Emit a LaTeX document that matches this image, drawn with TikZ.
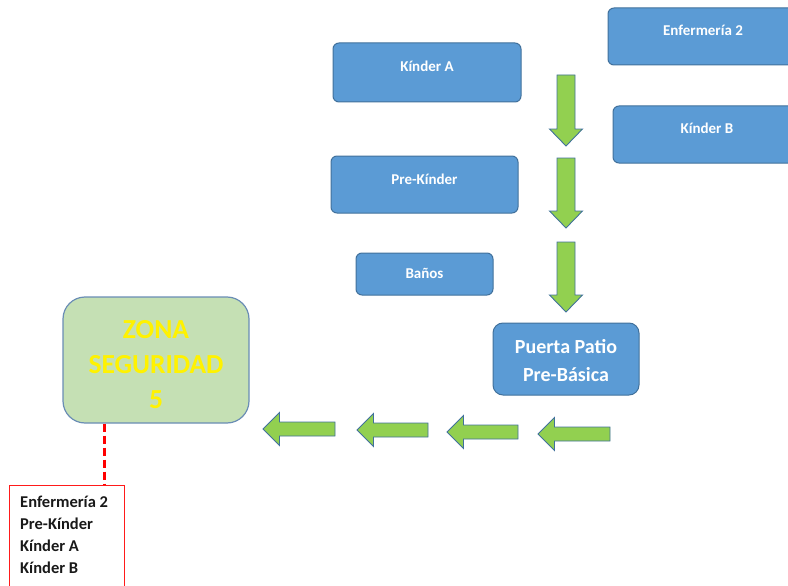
\documentclass[tikz,border=0pt]{standalone}
\usepackage{fontspec}
\setmainfont{Carlito}
\usetikzlibrary{calc}

\definecolor{boxblue}{HTML}{5B9BD5}
\definecolor{boxedge}{HTML}{41719C}
\definecolor{arrowgreen}{HTML}{92D050}
\definecolor{zonegreen}{HTML}{C5E0B4}
\definecolor{zoneedge}{HTML}{6A8DB5}
\definecolor{listred}{HTML}{FF1A1A}

\tikzset{
  room/.style={draw=boxedge, fill=boxblue, line width=1pt, rounded corners=6pt,
    text=white, font=\bfseries\fontsize{15}{18}\selectfont, inner sep=0pt,
    text height=11pt, text depth=12pt},
  gate/.style={draw=boxedge, fill=boxblue, line width=1pt, rounded corners=10pt,
    inner sep=0pt},
  gatetext/.style={text=white, font=\bfseries\fontsize{20}{28}\selectfont,
    align=center, inner sep=0pt},
  zone/.style={draw=zoneedge, fill=zonegreen, line width=1.2pt, rounded corners=22pt,
    inner sep=0pt},
  zonetext/.style={text=yellow, font=\bfseries\fontsize{27.5}{35}\selectfont,
    align=center, inner sep=0pt},
  listbox/.style={draw=listred, fill=white, line width=1pt, inner sep=0pt},
  listtext/.style={font=\bfseries\fontsize{16.5}{22}\selectfont, text=black!90,
    align=left, inner sep=0pt},
  blockarrow/.style={draw=boxedge, fill=arrowgreen, line width=0.9pt, line join=miter},
  dashline/.style={draw=red, line width=2.4pt, dash pattern=on 8pt off 4pt}
}

% block arrow pointing down: centre x, top y, tip y
\newcommand\arrowdown[3]{%
  \draw[blockarrow] (#1-9,#2) -- (#1+9,#2) -- (#1+9,#3-17) -- (#1+16.5,#3-17)
    -- (#1,#3) -- (#1-16.5,#3-17) -- (#1-9,#3-17) -- cycle;}
% block arrow pointing left: tip x, tail x, centre y
\newcommand\arrowleft[3]{%
  \draw[blockarrow] (#1,#3) -- (#1+16.5,#3-16.5) -- (#1+16.5,#3-7) -- (#2,#3-7)
    -- (#2,#3+7) -- (#1+16.5,#3+7) -- (#1+16.5,#3+16.5) -- cycle;}

\begin{document}
\begin{tikzpicture}[x=1pt, y=-1pt]
  \useasboundingbox (0,0) rectangle (788,586);
  \clip (0,0) rectangle (788,586);

  % rooms
  \node[room, minimum width=190pt, minimum height=57pt] (enf2) at (703,36.5) {Enfermería 2};
  \node[room, minimum width=188pt, minimum height=57pt] (kb) at (707,134.5) {Kínder B};
  \node[room, minimum width=188pt, minimum height=59pt] (ka) at (427,72.5) {Kínder A};
  \node[room, minimum width=187pt, minimum height=57pt] (pk) at (424.5,184.5) {Pre-Kínder};
  \node[room, minimum width=137pt, minimum height=42pt, text height=11pt, text depth=2pt]
    (banos) at (424.5,274) {Baños};

  % exit gate
  \node[gate, minimum width=146pt, minimum height=72pt] (gate) at (566,359) {};
  \node[gatetext] (gatetxt) at ($(gate.center)+(0,2)$) {Puerta Patio\\Pre-Básica};

  % safety zone
  \node[zone, minimum width=186pt, minimum height=126pt] (zona) at (156,360) {};
  \node[zonetext] (zonatxt) at ($(zona.center)+(0,5)$) {ZONA\\SEGURIDAD\\5};

  % route down to the gate
  \arrowdown{566}{75}{146}
  \arrowdown{566}{158}{228}
  \arrowdown{566}{242}{312}

  % route from the gate to the safety zone
  \arrowleft{538}{610}{434}
  \arrowleft{447}{518}{432}
  \arrowleft{357}{428}{430}
  \arrowleft{263}{335}{429}

  % list of groups assigned to the zone
  \node[listbox, anchor=north west, minimum width=115pt, minimum height=130pt]
    (list) at (9,485) {};
  \node[listtext, anchor=north west] (listtxt) at (20,495.5)
    {Enfermería 2\\Pre-Kínder\\Kínder A\\Kínder B};

  \draw[dashline] (zona.south west) ++(42,0) coordinate (dtop) -- (dtop |- list.north);
\end{tikzpicture}
\end{document}
